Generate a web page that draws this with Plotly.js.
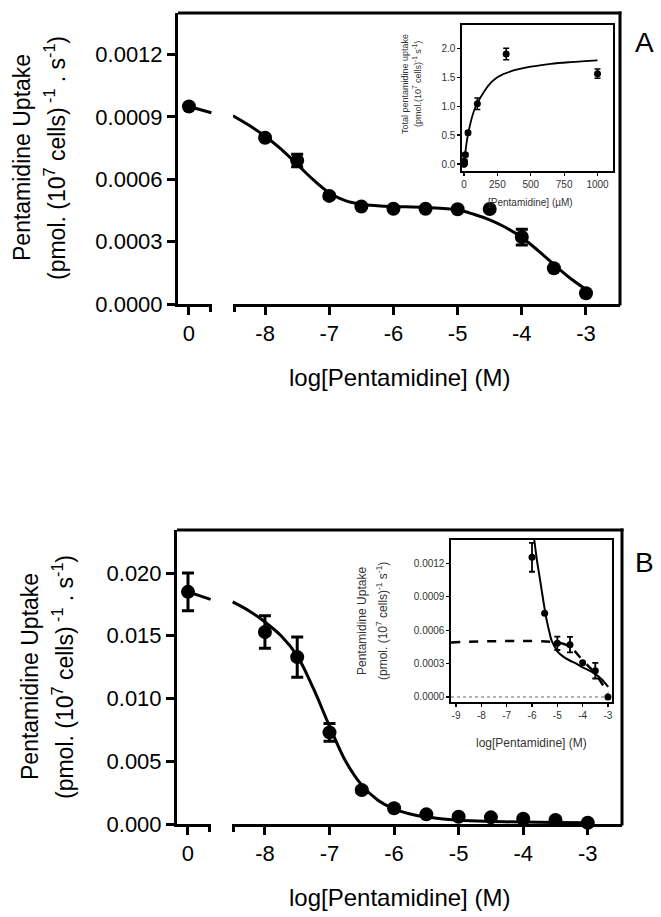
<!DOCTYPE html>
<html>
<head>
<meta charset="utf-8">
<script src="https://cdn.plot.ly/plotly-3.0.1.min.js"></script>
<style>html,body{margin:0;padding:0;background:#fff;}#chart{width:661px;height:917px;}</style>
</head>
<body>
<div id="chart"></div>
<script>
// ---------- Panel A (main) ----------
const aCtrlX = [0];
const aCtrlY = [0.00095];
const aCtrlErr = [0.00001];
const aCtrlFitX = [0, 0.35];
const aCtrlFitY = [0.00095, 0.00092];
const aLogX = [-8, -7.5, -7, -6.5, -6, -5.5, -5, -4.5, -4, -3.5, -3];
const aY = [0.0008, 0.00069, 0.00052, 0.000469, 0.000458, 0.000458, 0.000456, 0.000457, 0.000322, 0.000172, 0.000052];
const aErr = [0.00001, 0.00003, 0.00001, 0.000005, 0.000005, 0.000005, 0.000005, 0, 0.000038, 0.000005, 0];
const aFitX = [-8.5, -8.25, -8, -7.75, -7.5, -7.25, -7, -6.75, -6.5, -6.25, -6, -5.5, -5, -4.75, -4.5, -4.25, -4, -3.75, -3.5, -3.25, -3];
const aFitY = [0.000906, 0.00086, 0.000807, 0.000745, 0.000672, 0.000598, 0.000535, 0.000497, 0.00048, 0.000473, 0.000469, 0.000464, 0.000452, 0.000432, 0.000405, 0.000368, 0.00032, 0.000258, 0.00019, 0.000125, 0.00007];
const aYTicks = [0, 0.0003, 0.0006, 0.0009, 0.0012];
const aYTickText = ['0.0000', '0.0003', '0.0006', '0.0009', '0.0012'];

// ---------- Panel A (inset) ----------
const iaX = [0.01, 0.03, 0.1, 0.3, 1, 3, 10, 30, 100, 316, 1000];
const iaY = [0, 0, 0, 0.01, 0.02, 0.05, 0.16, 0.54, 1.04, 1.90, 1.56];
const iaErr = [0, 0, 0, 0, 0, 0.02, 0.03, 0.03, 0.1, 0.1, 0.08];
const iaFitX = [0, 10, 25, 50, 75, 100, 150, 200, 250, 350, 500, 650, 800, 1000];
const iaFitY = [0, 0.2, 0.45, 0.72, 0.92, 1.05, 1.25, 1.4, 1.5, 1.6, 1.68, 1.73, 1.76, 1.79];
const iaXTicks = [0, 250, 500, 750, 1000];
const iaYTicks = [0, 0.5, 1, 1.5, 2];
const iaYTickText = ['0.0', '0.5', '1.0', '1.5', '2.0'];

// ---------- Panel B (main) ----------
const bCtrlX = [0];
const bCtrlY = [0.0185];
const bCtrlErr = [0.0015];
const bCtrlFitX = [0, 0.35];
const bCtrlFitY = [0.0185, 0.0179];
const bLogX = [-8, -7.5, -7, -6.5, -6, -5.5, -5, -4.5, -4, -3.5, -3];
const bY = [0.0153, 0.0133, 0.0073, 0.0027, 0.00125, 0.00077, 0.00058, 0.00053, 0.00042, 0.00032, 0.0001];
const bErr = [0.0013, 0.0016, 0.0007, 0.0002, 0.0001, 0.0001, 0, 0, 0, 0, 0];
const bFitX = [-8.5, -8.25, -8, -7.75, -7.5, -7.25, -7, -6.75, -6.5, -6.25, -6, -5.75, -5.5, -5, -4.5, -4, -3.5, -3];
const bFitY = [0.0177, 0.0170, 0.0161, 0.0150, 0.0134, 0.0108, 0.0078, 0.0050, 0.0031, 0.0019, 0.0012, 0.0008, 0.00055, 0.0003, 0.0002, 0.00015, 0.00012, 0.0001];
const bYTicks = [0, 0.005, 0.01, 0.015, 0.02];
const bYTickText = ['0.000', '0.005', '0.010', '0.015', '0.020'];

// ---------- Panel B (inset) ----------
const ibX = [-6, -5.5, -5, -4.5, -4, -3.5, -3];
const ibY = [0.001255, 0.000752, 0.000482, 0.00047, 0.000308, 0.000236, 0.0];
const ibErr = [0.00013, 0, 0.00006, 0.00007, 0, 0.00007, 0];
const ibSolidX = [-5.91, -5.8, -5.68, -5.55, -5.42, -5.3, -5.23, -5.1, -5, -4.75, -4.53, -4.25, -4.04, -3.75, -3.53, -3.25, -2.99];
const ibSolidY = [0.00141, 0.00122, 0.00105, 0.00086, 0.00069, 0.00057, 0.00051, 0.00045, 0.00041, 0.00036, 0.00033, 0.0003, 0.00027, 0.00024, 0.00021, 0.00016, 0.00009];
const ibDashX = [-9.2, -5.0, -4.5, -4.0, -3.5, -3.0];
const ibDashY = [0.00049, 0.00049, 0.00045, 0.00033, 0.00021, 0.00003];
const ibZeroX = [-9.2, -2.84];
const ibZeroY = [0, 0];
const ibYTicks = [0, 0.0003, 0.0006, 0.0009, 0.0012];
const ibYTickText = ['0.0000', '0.0003', '0.0006', '0.0009', '0.0012'];

// ---------- shared tick labels ----------
const logTicks = [-8, -7, -6, -5, -4, -3];
const logTickText = ['-8', '-7', '-6', '-5', '-4', '-3'];
const ctrlTicks = [0];
const ctrlTickText = ['0'];
const insetLogTicks = [-9, -8, -7, -6, -5, -4, -3];
const insetLogTickText = ['-9', '-8', '-7', '-6', '-5', '-4', '-3'];

const W = 661, H = 917;
const px = v => v / W;
const py = v => 1 - v / H;
const FONT = '"Liberation Sans", Arial, sans-serif';
const black = '#000';

function mainMarkers(x, y, err, xa, ya) {
  return {x: x, y: y, xaxis: xa, yaxis: ya, type: 'scatter', mode: 'markers', cliponaxis: false,
    marker: {color: black, size: 14},
    error_y: {type: 'data', array: err, visible: true, color: black, thickness: 3, width: 6}, showlegend: false};
}
function line(x, y, xa, ya, w, dash, clip) {
  return {x: x, y: y, xaxis: xa, yaxis: ya, type: 'scatter', mode: 'lines', cliponaxis: !!clip,
    line: {color: black, width: w, dash: dash || 'solid', shape: 'spline', smoothing: 1}, showlegend: false};
}

const traces = [
  line(aCtrlFitX, aCtrlFitY, 'x', 'y', 3),
  mainMarkers(aCtrlX, aCtrlY, aCtrlErr, 'x', 'y'),
  line(aFitX, aFitY, 'x2', 'y', 3),
  mainMarkers(aLogX, aY, aErr, 'x2', 'y'),
  line(iaFitX, iaFitY, 'x3', 'y2', 1.8, 'solid', true),
  {x: iaX, y: iaY, xaxis: 'x3', yaxis: 'y2', type: 'scatter', mode: 'markers', cliponaxis: false,
   marker: {color: black, size: 7}, error_y: {type: 'data', array: iaErr, color: black, thickness: 1.5, width: 3}, showlegend: false},
  line(bCtrlFitX, bCtrlFitY, 'x4', 'y3', 3),
  mainMarkers(bCtrlX, bCtrlY, bCtrlErr, 'x4', 'y3'),
  line(bFitX, bFitY, 'x5', 'y3', 3),
  mainMarkers(bLogX, bY, bErr, 'x5', 'y3'),
  {x: ibZeroX, y: ibZeroY, xaxis: 'x6', yaxis: 'y4', type: 'scatter', mode: 'lines',
   line: {color: '#999', width: 1.5, dash: 'dot'}, showlegend: false},
  line(ibDashX, ibDashY, 'x6', 'y4', 2.5, 'dash', true),
  line(ibSolidX, ibSolidY, 'x6', 'y4', 2, 'solid', true),
  {x: ibX, y: ibY, xaxis: 'x6', yaxis: 'y4', type: 'scatter', mode: 'markers', cliponaxis: false,
   marker: {color: black, size: 7}, error_y: {type: 'data', array: ibErr, color: black, thickness: 1.8, width: 3}, showlegend: false}
];

const mainTickFont = {family: FONT, size: 22, color: black};

function mainX(domain, range, tv, tt, anchor) {
  return {domain: domain, range: range, anchor: anchor, showline: true, linewidth: 3, linecolor: black,
    ticks: 'outside', ticklen: 8, tickwidth: 3, tickcolor: black, tickvals: tv, ticktext: tt,
    tickfont: mainTickFont, showgrid: false, zeroline: false, fixedrange: true};
}
function mainY(domain, range, tv, tt, anchor) {
  return {domain: domain, range: range, anchor: anchor, showline: true, linewidth: 3, linecolor: black,
    ticks: 'outside', ticklen: 8, tickwidth: 3, tickcolor: black, tickvals: tv, ticktext: tt,
    tickfont: mainTickFont, showgrid: false, zeroline: false, fixedrange: true};
}
function insetAx(domain, range, tv, tt, anchor, fs) {
  return {domain: domain, range: range, anchor: anchor, showline: true, linewidth: 1.6, linecolor: black, mirror: true,
    ticks: 'outside', ticklen: 3, tickwidth: 1.2, tickcolor: black, tickvals: tv, ticktext: tt,
    tickfont: {family: FONT, size: fs, color: '#333'}, showgrid: false, zeroline: false, fixedrange: true};
}
function endTick(xPix, yPix) {
  return {type: 'line', xref: 'paper', yref: 'paper', x0: px(xPix), x1: px(xPix), y0: py(yPix), y1: py(yPix + 8),
    line: {color: black, width: 3}};
}

const layout = {
  width: W, height: H,
  margin: {l: 0, r: 0, t: 0, b: 0, pad: 0},
  paper_bgcolor: '#fff', plot_bgcolor: 'rgba(0,0,0,0)',
  font: {family: FONT, color: black},
  showlegend: false,
  // Panel A
  xaxis: mainX([px(178), px(212)], [-0.171, 0.36], ctrlTicks, ctrlTickText, 'y'),
  xaxis2: mainX([px(233), px(620)], [-8.5, -2.47], logTicks, logTickText, 'y'),
  yaxis: mainY([py(304), py(13)], [0, 0.0014], aYTicks, aYTickText, 'x'),
  // Panel A inset
  xaxis3: insetAx([px(462), px(613)], [-15, 1116], iaXTicks, iaXTicks.map(String), 'y2', 10),
  yaxis2: insetAx([py(171), py(25)], [-0.12, 2.4], iaYTicks, iaYTickText, 'x3', 10),
  // Panel B
  xaxis4: mainX([px(177), px(211)], [-0.17, 0.356], ctrlTicks, ctrlTickText, 'y3'),
  xaxis5: mainX([px(232), px(622)], [-8.51, -2.47], logTicks, logTickText, 'y3'),
  yaxis3: mainY([py(824), py(530)], [0, 0.02343], bYTicks, bYTickText, 'x4'),
  // Panel B inset
  xaxis6: insetAx([px(451), px(612)], [-9.2, -2.84], insetLogTicks, insetLogTickText, 'y4', 10),
  yaxis4: insetAx([py(702), py(540)], [-0.000045, 0.00141], ibYTicks, ibYTickText, 'x6', 10),
  shapes: [
    {type: 'line', xref: 'paper', yref: 'paper', x0: px(178), x1: px(621.5), y0: py(13), y1: py(13), line: {color: black, width: 3}},
    {type: 'line', xref: 'paper', yref: 'paper', x0: px(620), x1: px(620), y0: py(305.5), y1: py(11.5), line: {color: black, width: 3}},
    {type: 'line', xref: 'paper', yref: 'paper', x0: px(177), x1: px(623.5), y0: py(530), y1: py(530), line: {color: black, width: 3}},
    {type: 'line', xref: 'paper', yref: 'paper', x0: px(622), x1: px(622), y0: py(825.5), y1: py(528.5), line: {color: black, width: 3}},
    endTick(210.5, 304), endTick(234.5, 304), endTick(209.5, 824), endTick(233.5, 824)
  ],
  annotations: [
    // Panel A titles
    {text: 'Pentamidine Uptake', x: px(22), y: py(158), xref: 'paper', yref: 'paper', textangle: -90, showarrow: false,
     xanchor: 'center', yanchor: 'middle', font: {family: FONT, size: 23, color: black}},
    {text: '(pmol. (10<sup>7</sup> cells)<sup> -1</sup> . s<sup>-1</sup>)', x: px(55), y: py(158), xref: 'paper', yref: 'paper', textangle: -90, showarrow: false,
     xanchor: 'center', yanchor: 'middle', font: {family: FONT, size: 23, color: black}},
    {text: 'log[Pentamidine] (M)', x: px(399), y: py(377), xref: 'paper', yref: 'paper', showarrow: false,
     xanchor: 'center', yanchor: 'middle', font: {family: FONT, size: 24, color: black}},
    {text: 'A', x: px(644), y: py(43), xref: 'paper', yref: 'paper', showarrow: false,
     xanchor: 'center', yanchor: 'middle', font: {family: FONT, size: 28, color: black}},
    // Panel A inset titles
    {text: 'Total pentamidine uptake', x: px(405), y: py(84), xref: 'paper', yref: 'paper', textangle: -90, showarrow: false,
     xanchor: 'center', yanchor: 'middle', font: {family: FONT, size: 9, color: '#333'}},
    {text: '(pmol.(10<sup>7</sup> cells)<sup>-1</sup> s<sup>-1</sup>)', x: px(417), y: py(84), xref: 'paper', yref: 'paper', textangle: -90, showarrow: false,
     xanchor: 'center', yanchor: 'middle', font: {family: FONT, size: 9, color: '#333'}},
    {text: '[Pentamidine] (µM)', x: px(530), y: py(202), xref: 'paper', yref: 'paper', showarrow: false,
     xanchor: 'center', yanchor: 'middle', font: {family: FONT, size: 10, color: '#333'}},
    // Panel B titles
    {text: 'Pentamidine Uptake', x: px(30), y: py(677), xref: 'paper', yref: 'paper', textangle: -90, showarrow: false,
     xanchor: 'center', yanchor: 'middle', font: {family: FONT, size: 23, color: black}},
    {text: '(pmol. (10<sup>7</sup> cells)<sup> -1</sup> . s<sup>-1</sup>)', x: px(63), y: py(677), xref: 'paper', yref: 'paper', textangle: -90, showarrow: false,
     xanchor: 'center', yanchor: 'middle', font: {family: FONT, size: 23, color: black}},
    {text: 'log[Pentamidine] (M)', x: px(399), y: py(897), xref: 'paper', yref: 'paper', showarrow: false,
     xanchor: 'center', yanchor: 'middle', font: {family: FONT, size: 24, color: black}},
    {text: 'B', x: px(644), y: py(562), xref: 'paper', yref: 'paper', showarrow: false,
     xanchor: 'center', yanchor: 'middle', font: {family: FONT, size: 28, color: black}},
    // Panel B inset titles
    {text: 'Pentamidine Uptake', x: px(362), y: py(621), xref: 'paper', yref: 'paper', textangle: -90, showarrow: false,
     xanchor: 'center', yanchor: 'middle', font: {family: FONT, size: 12, color: '#333'}},
    {text: '(pmol. (10<sup>7</sup> cells)<sup>-1</sup> s<sup>-1</sup>)', x: px(382), y: py(621), xref: 'paper', yref: 'paper', textangle: -90, showarrow: false,
     xanchor: 'center', yanchor: 'middle', font: {family: FONT, size: 12, color: '#333'}},
    {text: 'log[Pentamidine] (M)', x: px(531), y: py(743), xref: 'paper', yref: 'paper', showarrow: false,
     xanchor: 'center', yanchor: 'middle', font: {family: FONT, size: 12, color: '#333'}}
  ]
};

Plotly.newPlot('chart', traces, layout, {staticPlot: true, displayModeBar: false});
</script>
</body>
</html>
